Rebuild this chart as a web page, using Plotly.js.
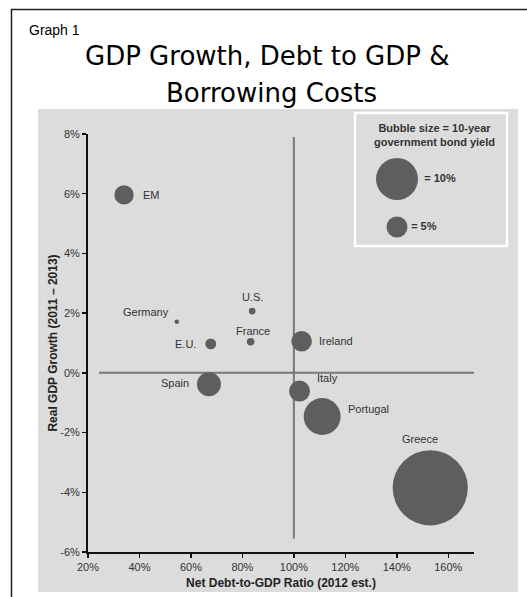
<!DOCTYPE html>
<html>
<head>
<meta charset="utf-8">
<script src="https://cdn.plot.ly/plotly-3.0.1.min.js"></script>
<style>html,body{margin:0;padding:0;background:#fff;}#chart{width:527px;height:597px;}</style>
</head>
<body>
<div id="chart"></div>
<script>
// ---- data ----
const countries = ['EM', 'Germany', 'U.S.', 'France', 'E.U.', 'Spain', 'Ireland', 'Italy', 'Portugal', 'Greece'];
const netDebtToGdp = [34, 54.5, 83.8, 83.2, 67.7, 67, 103, 102.2, 111, 153];
const realGdpGrowth = [5.96, 1.71, 2.07, 1.04, 0.97, -0.38, 1.06, -0.61, -1.46, -3.85];
const bondYield = [4.6, 1.1, 1.6, 1.8, 2.6, 5.7, 4.9, 5.0, 8.8, 17.9];

const legendYields = [10, 5];
const legendLabels = ['= 10%', '= 5%'];

const xTickVals = [20, 40, 60, 80, 100, 120, 140, 160];
const xTickText = ['20%', '40%', '60%', '80%', '100%', '120%', '140%', '160%'];
const yTickVals = [-6, -4, -2, 0, 2, 4, 6, 8];
const yTickText = ['-6%', '-4%', '-2%', '0%', '2%', '4%', '6%', '8%'];

// ---- styling helpers (pixel -> paper) ----
const L = 38, R = 518, T = 109, B = 592;
const X = px => (px - L) / (R - L);
const Y = py => (B - py) / (B - T);

const bubbleColor = '#5e5e5e';
const sizeref = 1 / 4.2;

// label placement (style only)
const labelStyle = {
  'EM':       {xanchor: 'left',   xshift: 17,  yshift: 0},
  'Germany':  {xanchor: 'right',  xshift: -6,  yshift: 10},
  'U.S.':     {xanchor: 'center', xshift: 0,   yshift: 14},
  'France':   {xanchor: 'center', xshift: 2,   yshift: 11},
  'E.U.':     {xanchor: 'right',  xshift: -13, yshift: 0},
  'Spain':    {xanchor: 'right',  xshift: -18, yshift: 1},
  'Ireland':  {xanchor: 'left',   xshift: 15,  yshift: 0},
  'Italy':    {xanchor: 'left',   xshift: 15,  yshift: 13},
  'Portugal': {xanchor: 'left',   xshift: 24,  yshift: 7},
  'Greece':   {xanchor: 'center', xshift: -10, yshift: 49}
};

const traces = [
  {
    type: 'scatter', mode: 'markers',
    x: netDebtToGdp, y: realGdpGrowth, text: countries,
    marker: {size: bondYield, sizemode: 'diameter', sizeref: sizeref, color: bubbleColor, opacity: 1, line: {width: 0}},
    cliponaxis: false, hoverinfo: 'text', showlegend: false, xaxis: 'x', yaxis: 'y'
  },
  {
    type: 'scatter', mode: 'markers+text',
    x: legendYields.map(() => 0), y: legendLabels, text: legendLabels,
    textposition: 'middle right',
    textfont: {family: 'Liberation Sans, Arial, sans-serif', size: 11, color: '#333', weight: 'bold'},
    marker: {size: legendYields, sizemode: 'diameter', sizeref: sizeref, color: bubbleColor, opacity: 1, line: {width: 0}},
    cliponaxis: false, hoverinfo: 'skip', showlegend: false, xaxis: 'x2', yaxis: 'y2'
  }
];

const annotations = countries.map((c, i) => ({
  x: netDebtToGdp[i], y: realGdpGrowth[i], xref: 'x', yref: 'y',
  text: c, showarrow: false,
  xanchor: labelStyle[c].xanchor, yanchor: 'middle',
  xshift: labelStyle[c].xshift, yshift: labelStyle[c].yshift,
  font: {family: 'Liberation Sans, Arial, sans-serif', size: 11, color: '#333'}
}));

annotations.push(
  {xref: 'paper', yref: 'paper', x: X(27), y: Y(30), xanchor: 'left', yanchor: 'middle', showarrow: false,
   text: 'Graph 1', font: {family: 'Liberation Sans, Arial, sans-serif', size: 14, color: '#000'}},
  {xref: 'paper', yref: 'paper', x: X(267), y: Y(56), xanchor: 'center', yanchor: 'middle', showarrow: false,
   text: 'GDP Growth, Debt to GDP &', font: {family: 'DejaVu Sans, sans-serif', size: 26, color: '#000'}},
  {xref: 'paper', yref: 'paper', x: X(271), y: Y(93), xanchor: 'center', yanchor: 'middle', showarrow: false,
   text: 'Borrowing Costs', font: {family: 'DejaVu Sans, sans-serif', size: 26, color: '#000'}},
  {xref: 'paper', yref: 'paper', x: X(434), y: Y(135), xanchor: 'center', yanchor: 'middle', showarrow: false,
   text: '<b>Bubble size = 10-year<br>government bond yield</b>',
   font: {family: 'Liberation Sans, Arial, sans-serif', size: 11, color: '#333'}}
);

const shapes = [
  // gray panel
  {type: 'rect', xref: 'paper', yref: 'paper', x0: 0, x1: 1, y0: 0, y1: 1, layer: 'below',
   fillcolor: '#dcdcdc', line: {width: 0}},
  // outer frame
  {type: 'rect', xref: 'paper', yref: 'paper', x0: X(11.5), x1: X(560), y0: Y(640), y1: Y(9.5), layer: 'above',
   fillcolor: 'rgba(0,0,0,0)', line: {color: '#222', width: 1.5}},
  // legend box
  {type: 'rect', xref: 'paper', yref: 'paper', x0: X(355), x1: X(507), y0: Y(246), y1: Y(113), layer: 'below',
   fillcolor: 'rgba(0,0,0,0)', line: {color: '#ffffff', width: 2.5}},
  // reference lines
  {type: 'line', xref: 'x', yref: 'y', x0: 100, x1: 100, y0: -5.55, y1: 7.9, layer: 'below',
   line: {color: '#777', width: 2}},
  {type: 'line', xref: 'x', yref: 'y', x0: 24.3, x1: 170, y0: 0, y1: 0, layer: 'below',
   line: {color: '#777', width: 2}}
];

const axisFont = {family: 'Liberation Sans, Arial, sans-serif', size: 11, color: '#333'};

const layout = {
  width: 527, height: 597,
  margin: {l: L, r: 527 - R, t: T, b: 597 - B, pad: 0},
  paper_bgcolor: '#ffffff', plot_bgcolor: 'rgba(0,0,0,0)',
  font: axisFont,
  showlegend: false,
  xaxis: {
    domain: [X(88), X(474)], range: [20, 170],
    tickvals: xTickVals, ticktext: xTickText, tickfont: axisFont,
    showline: true, linecolor: '#111', linewidth: 2, mirror: false,
    ticks: 'outside', ticklen: 4, tickwidth: 1.5, tickcolor: '#111',
    showgrid: false, zeroline: false, anchor: 'y',
    title: {text: '<b>Net Debt-to-GDP Ratio (2012 est.)</b>', font: {family: 'Liberation Sans, Arial, sans-serif', size: 12, color: '#222'}, standoff: 6}
  },
  yaxis: {
    domain: [Y(552), Y(134)], range: [-6, 8],
    tickvals: yTickVals, ticktext: yTickText, tickfont: axisFont,
    showline: true, linecolor: '#111', linewidth: 2,
    ticks: 'outside', ticklen: 4, tickwidth: 1.5, tickcolor: '#111',
    showgrid: false, zeroline: false, anchor: 'x',
    title: {text: '<b>Real GDP Growth (2011 – 2013)</b>', font: {family: 'Liberation Sans, Arial, sans-serif', size: 12, color: '#222'}, standoff: 0}
  },
  xaxis2: {domain: [X(377), X(417)], range: [-1, 1], visible: false, anchor: 'y2', fixedrange: true},
  yaxis2: {domain: [Y(251), Y(155)], type: 'category', categoryarray: legendLabels.slice().reverse(), categoryorder: 'array',
           range: [-0.5, 1.5], visible: false, anchor: 'x2', fixedrange: true},
  shapes: shapes,
  annotations: annotations
};

Plotly.newPlot('chart', traces, layout, {displayModeBar: false, staticPlot: true});
</script>
</body>
</html>
